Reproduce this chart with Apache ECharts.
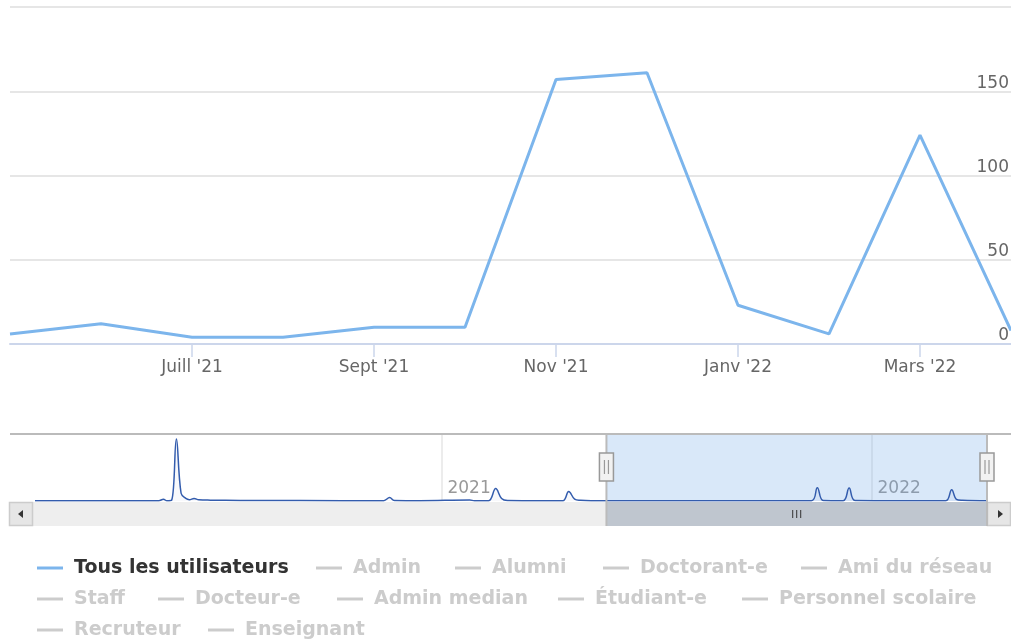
<!DOCTYPE html>
<html lang="fr">
<head>
<meta charset="utf-8">
<title>Utilisateurs</title>
<script src="https://cdn.jsdelivr.net/npm/echarts@6/dist/echarts.min.js"></script>
<style>
  html, body { margin: 0; padding: 0; background: #fff; }
  #chart { width: 1011px; height: 641px; }
</style>
</head>
<body>
<div id="chart"></div>
<script>
// vue principale (par mois)
var months = ["Mai '21", "Juin '21", "Juill '21", "Août '21", "Sept '21", "Oct '21", "Nov '21", "Déc '21", "Janv '22", "Févr '22", "Mars '22", "Avr '22"];
var monthValues = [6, 12, 4, 4, 10, 10, 157, 161, 23, 6, 124, 8];
var yTicks = [0, 50, 100, 150, 200];

// navigateur (valeurs journalières)
var navDates = ['2020-01-22', '2020-03-18', '2020-05-06', '2020-05-10', '2020-05-13', '2020-05-17', '2020-05-21', '2020-05-25',
  '2020-05-29', '2020-06-01', '2020-06-05', '2020-06-09', '2020-06-19', '2020-07-14', '2020-09-03', '2020-11-13',
  '2020-11-18', '2020-11-22', '2020-12-14', '2021-01-25', '2021-01-29', '2021-02-10', '2021-02-16', '2021-02-21',
  '2021-02-26', '2021-03-26', '2021-04-14', '2021-04-19', '2021-04-24', '2021-04-29', '2021-05-08', '2021-08-08',
  '2021-11-11', '2021-11-16', '2021-11-21', '2021-12-08', '2021-12-13', '2021-12-18', '2022-01-25', '2022-03-05',
  '2022-03-10', '2022-03-14', '2022-03-19', '2022-04-09'];
var navValues = [4, 3, 3, 20, 3, 10, 720, 90,
  30, 15, 28, 14, 10, 7, 5, 4,
  40, 5, 3, 12, 3, 4, 145, 30,
  6, 3, 4, 110, 22, 8, 3, 3,
  4, 155, 6, 4, 150, 6, 3, 3,
  130, 20, 8, 3];
var navMin = '2020-01-22', navMax = '2022-04-09';
var selStart = '2021-05-21', selEnd = '2022-04-09';

// légende
var seriesNames = ['Tous les utilisateurs', 'Admin', 'Alumni', 'Doctorant-e', 'Ami du réseau',
  'Staff', 'Docteur-e', 'Admin median', 'Étudiant-e', 'Personnel scolaire',
  'Recruteur', 'Enseignant'];
var legendLeft = [37, 316, 455, 603, 801, 37, 158, 337, 558, 742, 37, 208];
var legendTop = [557, 557, 557, 557, 557, 588, 588, 588, 588, 588, 619, 619];

var labelFont = 'DejaVu Sans, Verdana, sans-serif';
var chart = echarts.init(document.getElementById('chart'));

var series = seriesNames.map(function (name, i) {
  return {
    name: name,
    type: 'line',
    xAxisIndex: 0,
    yAxisIndex: 0,
    data: i === 0 ? monthValues : [],
    showSymbol: false,
    color: i === 0 ? '#7cb5ec' : '#cccccc',
    lineStyle: { width: 3 },
    z: 3
  };
});

series.push({
  name: 'navigator',
  type: 'line',
  xAxisIndex: 1,
  yAxisIndex: 1,
  data: navDates.map(function (d, i) { return [d, navValues[i]]; }),
  showSymbol: false,
  smooth: 0.4,
  color: '#335cad',
  lineStyle: { width: 1.5 },
  areaStyle: { color: 'rgba(51,92,173,0.05)' },
  markArea: {
    silent: true,
    itemStyle: { color: 'rgba(110,165,230,0.26)' },
    data: [[{ xAxis: selStart }, { xAxis: selEnd }]]
  }
});

var legends = seriesNames.map(function (name, i) {
  var sel = {};
  sel[name] = i === 0;
  return {
    data: [name],
    selected: sel,
    left: legendLeft[i],
    top: legendTop[i],
    icon: 'rect',
    itemWidth: 26,
    itemHeight: 3,
    padding: 0,
    inactiveColor: '#cccccc',
    textStyle: {
      fontFamily: labelFont,
      fontSize: 19,
      fontWeight: 'bold',
      color: '#333333',
      lineHeight: 22,
      padding: [0, 0, 0, 6]
    }
  };
});

var option = {
  animation: false,
  backgroundColor: '#ffffff',
  legend: legends,
  grid: [
    { left: 10, right: 0, top: 7, height: 337, outerBoundsMode: 'none' },
    { left: 35, right: 24, top: 434, height: 67, outerBoundsMode: 'none' }
  ],
  xAxis: [
    {
      type: 'category',
      gridIndex: 0,
      data: months,
      boundaryGap: false,
      axisLine: { lineStyle: { color: '#ccd6eb', width: 2 } },
      axisTick: {
        length: 13,
        interval: function (idx) { return idx % 2 === 0 && idx > 0; },
        lineStyle: { color: '#ccd6eb', width: 1.5 }
      },
      axisLabel: {
        interval: function (idx) { return idx % 2 === 0 && idx > 0; },
        margin: 15,
        color: '#666666',
        fontFamily: labelFont,
        fontSize: 17
      },
      splitLine: { show: false }
    },
    {
      type: 'time',
      gridIndex: 1,
      min: navMin,
      max: navMax,
      minInterval: 365 * 24 * 3600 * 1000,
      maxInterval: 366 * 24 * 3600 * 1000,
      axisLine: { show: false },
      axisTick: { show: false },
      axisLabel: {
        inside: true,
        align: 'left',
        margin: 4,
        padding: [0, 0, 0, 6],
        showMinLabel: false,
        showMaxLabel: false,
        formatter: '{yyyy}',
        color: '#999999',
        fontFamily: labelFont,
        fontSize: 17
      },
      splitLine: { show: true, showMinLine: false, showMaxLine: false, lineStyle: { color: '#e6e6e6', width: 1.5 } }
    }
  ],
  yAxis: [
    {
      type: 'value',
      gridIndex: 0,
      position: 'right',
      min: yTicks[0],
      max: yTicks[yTicks.length - 1],
      interval: yTicks[1] - yTicks[0],
      axisLine: { show: false },
      axisTick: { show: false },
      axisLabel: {
        inside: true,
        margin: 2,
        verticalAlign: 'bottom',
        lineHeight: 16,
        showMaxLabel: false,
        color: '#666666',
        fontFamily: labelFont,
        fontSize: 17
      },
      splitLine: { lineStyle: { color: '#e6e6e6', width: 2 } }
    },
    {
      type: 'value',
      gridIndex: 1,
      min: 0,
      max: 778,
      show: false
    }
  ],
  series: series
};

chart.setOption(option);

// navigateur : contour, poignées et barre de défilement
var x0 = chart.convertToPixel({ xAxisIndex: 1 }, selStart);
var x1 = chart.convertToPixel({ xAxisIndex: 1 }, selEnd);
var sbTop = 502, sbH = 24;

function handle(x) {
  return [
    { type: 'rect', shape: { x: x - 7, y: 453, width: 14, height: 28 },
      style: { fill: '#f2f2f2', stroke: '#999999', lineWidth: 1.5 }, z: 20 },
    { type: 'line', shape: { x1: x - 2, y1: 460, x2: x - 2, y2: 474 },
      style: { stroke: '#999999', lineWidth: 1.2 }, z: 21 },
    { type: 'line', shape: { x1: x + 2, y1: 460, x2: x + 2, y2: 474 },
      style: { stroke: '#999999', lineWidth: 1.2 }, z: 21 }
  ];
}

var cx = (x0 + x1) / 2;
var decor = [
  { type: 'rect', shape: { x: 10, y: sbTop, width: 1001, height: sbH }, style: { fill: '#eeeeee' }, z: 10 },
  { type: 'rect', shape: { x: x0, y: sbTop, width: x1 - x0, height: sbH }, style: { fill: '#bfc6cf' }, z: 11 },
  { type: 'line', shape: { x1: cx - 4, y1: 510, x2: cx - 4, y2: 518 }, style: { stroke: '#333333', lineWidth: 1 }, z: 12 },
  { type: 'line', shape: { x1: cx, y1: 510, x2: cx, y2: 518 }, style: { stroke: '#333333', lineWidth: 1 }, z: 12 },
  { type: 'line', shape: { x1: cx + 4, y1: 510, x2: cx + 4, y2: 518 }, style: { stroke: '#333333', lineWidth: 1 }, z: 12 },
  { type: 'rect', shape: { x: 9.5, y: sbTop + 0.5, width: 23, height: sbH - 1 },
    style: { fill: '#e6e6e6', stroke: '#cccccc', lineWidth: 1.5 }, z: 12 },
  { type: 'polygon', shape: { points: [[18, 514], [23, 510], [23, 518]] }, style: { fill: '#333333' }, z: 13 },
  { type: 'rect', shape: { x: 987.5, y: sbTop + 0.5, width: 23, height: sbH - 1 },
    style: { fill: '#e6e6e6', stroke: '#cccccc', lineWidth: 1.5 }, z: 12 },
  { type: 'polygon', shape: { points: [[1003, 514], [998, 510], [998, 518]] }, style: { fill: '#333333' }, z: 13 },
  { type: 'line', shape: { x1: 10, y1: 434, x2: 1011, y2: 434 }, style: { stroke: '#bbbbbb', lineWidth: 2 }, z: 14 },
  { type: 'line', shape: { x1: x0, y1: 434, x2: x0, y2: sbTop + sbH }, style: { stroke: '#bbbbbb', lineWidth: 2 }, z: 14 },
  { type: 'line', shape: { x1: x1, y1: 434, x2: x1, y2: sbTop + sbH }, style: { stroke: '#bbbbbb', lineWidth: 2 }, z: 14 }
].concat(handle(x0), handle(x1));

chart.setOption({ graphic: decor });
</script>
</body>
</html>
